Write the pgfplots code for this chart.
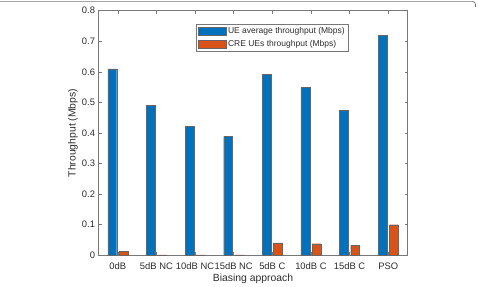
\documentclass[border=0pt]{standalone}
\usepackage{fontspec}
\setmainfont{Liberation Sans}
\usepackage{pgfplots}
\pgfplotsset{compat=1.18}
\definecolor{mblue}{RGB}{0,114,189}
\definecolor{morange}{RGB}{217,83,25}
\definecolor{axgray}{RGB}{120,120,120}
\definecolor{txtgray}{RGB}{45,45,45}

\begin{document}
\begin{tikzpicture}[x=1bp,y=1bp]
\useasboundingbox (0,0) rectangle (478,286);
% outer frame of the figure
\draw[black!55, line width=0.7bp, rounded corners=3bp] (0,284.6) -- (475.5,284.6) -- (475.5,279);
\begin{axis}[
  at={(98.5bp,30.7bp)}, anchor=south west,
  scale only axis, width=309bp, height=244.6bp,
  xmin=0.5, xmax=8.5, ymin=0, ymax=0.8,
  xtick={1,2,3,4,5,6,7,8},
  xticklabels={0dB,5dB NC,10dB NC,15dB NC,5dB C,10dB C,15dB C,PSO},
  ytick={0,0.1,0.2,0.3,0.4,0.5,0.6,0.7,0.8},
  yticklabel style={/pgf/number format/fixed, /pgf/number format/precision=1},
  /pgf/number format/assume math mode=true,
  tick align=inside, xtick pos=both, ytick pos=both,
  major tick length=3bp,
  axis line style={axgray, line width=0.5bp},
  every tick/.style={axgray, line width=0.5bp},
  tick label style={font=\fontsize{9.4bp}{11bp}\selectfont, text=txtgray},
  xticklabel style={anchor=base, yshift=-14.5bp},
  xlabel={Biasing approach},
  ylabel={Throughput (Mbps)},
  label style={font=\fontsize{10.4bp}{12bp}\selectfont, text=txtgray},
  xlabel style={at={(axis description cs:0.5,-0.097)}, anchor=center},
  ylabel style={at={(axis description cs:-0.0825,0.5)}, anchor=center},
  legend style={at={(0.3155,0.944)}, anchor=north west,
    draw=axgray, line width=0.5bp, fill=white,
    font=\fontsize{8.5bp}{10bp}\selectfont, text=txtgray,
    inner xsep=1.5bp, inner ysep=1bp, row sep=1.2bp},
  legend cell align=left,
  legend image code/.code={\draw[#1] (0bp,-4bp) rectangle (28bp,4bp);},
]
\addplot[ybar, bar width=0.23, bar shift=-0.143, fill=mblue, draw=black!60, line width=0.3bp]
  coordinates {(1,0.610) (2,0.490) (3,0.421) (4,0.389) (5,0.592) (6,0.549) (7,0.474) (8,0.720)};
\addlegendentry{UE average throughput (Mbps)}
\addplot[ybar, bar width=0.23, bar shift=0.143, fill=morange, draw=black!60, line width=0.3bp]
  coordinates {(1,0.012) (2,0.001) (3,0.001) (4,0.001) (5,0.041) (6,0.038) (7,0.032) (8,0.100)};
\addlegendentry{CRE UEs throughput (Mbps)}
\end{axis}
\end{tikzpicture}
\end{document}
